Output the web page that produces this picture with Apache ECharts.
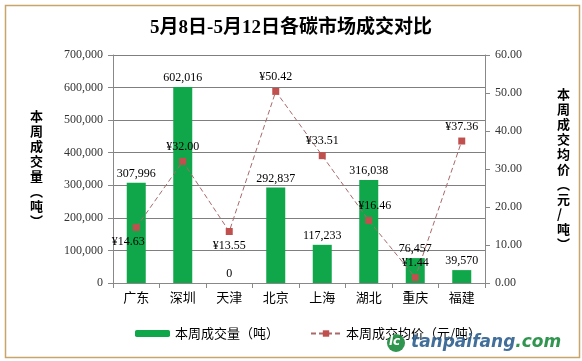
<!DOCTYPE html>
<html><head><meta charset="utf-8">
<script src="https://cdn.jsdelivr.net/npm/echarts@6/dist/echarts.min.js"></script>
<style>html,body{margin:0;padding:0;background:#fff}#c{width:582px;height:361px}</style>
</head><body><div id="c"></div>
<script>
var categories = ['广东','深圳','天津','北京','上海','湖北','重庆','福建'];
var volumes = [307996, 602016, 0, 292837, 117233, 316038, 76457, 39570];
var prices = [14.63, 32.00, 13.55, 50.42, 33.51, 16.46, 1.44, 37.36];
var priceLabelPos = ['bottom','top','bottom','top','top','top','top','top'];

var serif = '"Times New Roman","Liberation Serif","Noto Sans CJK SC",serif';
var chart = echarts.init(document.getElementById('c'));
function fmt(n){return n.toString().replace(/\B(?=(\d{3})+(?!\d))/g, ',');}
chart.setOption({
  backgroundColor: '#fff',
  animation: false,
  title: {text: '5月8日-5月12日各碳市场成交对比', left: 'center', top: 14,
    textStyle: {fontFamily: serif, fontSize: 19, fontWeight: 'bold', color: '#000'}},
  legend: [
    {data: ['本周成交量（吨）'], left: 130, top: 322, itemWidth: 35, itemHeight: 7, itemGap: 5,
      textStyle: {fontFamily: '"Noto Sans CJK SC",sans-serif', fontSize: 13, color: '#000'}},
    {data: ['本周成交均价（元/吨）'], left: 305, top: 322, itemWidth: 30, itemHeight: 8,
      textStyle: {fontFamily: '"Noto Sans CJK SC",sans-serif', fontSize: 13, color: '#000'}}
  ],
  grid: {left: 113, right: 97, top: 55, bottom: 78},
  xAxis: {type: 'category', data: categories,
    axisLine: {lineStyle: {color: '#888'}}, axisTick: {show: true, length: 5, lineStyle: {color: '#888'}},
    axisLabel: {fontFamily: '"Noto Sans CJK SC",sans-serif', fontSize: 13, color: '#000', margin: 8}},
  yAxis: [
    {type: 'value', min: 0, max: 700000, interval: 100000,
      name: '本\n周\n成\n交\n量\n︵\n吨\n︶', nameLocation: 'middle', nameRotate: 0, nameGap: 70,
      nameTextStyle: {fontFamily: '"Noto Sans CJK SC",sans-serif', fontSize: 13, fontWeight: 'bold', lineHeight: 15, color: '#000'},
      axisLine: {show: true, lineStyle: {color: '#888'}}, axisTick: {show: true, length: 5, lineStyle: {color: '#888'}},
      splitLine: {lineStyle: {color: '#7f7f7f'}},
      axisLabel: {fontFamily: serif, fontSize: 12, color: '#333', margin: 10, formatter: function(v){return fmt(v);}}},
    {type: 'value', min: 0, max: 60, interval: 10,
      name: '本\n周\n成\n交\n均\n价\n︵\n元\n/\n吨\n︶', nameLocation: 'middle', nameRotate: 0, nameGap: 72,
      nameTextStyle: {fontFamily: '"Noto Sans CJK SC",sans-serif', fontSize: 13, fontWeight: 'bold', lineHeight: 15, color: '#000'},
      axisLine: {show: true, lineStyle: {color: '#888'}}, axisTick: {show: true, length: 5, lineStyle: {color: '#888'}},
      splitLine: {show: false},
      axisLabel: {fontFamily: serif, fontSize: 12, color: '#333', margin: 10, formatter: function(v){return v.toFixed(2);}}}
  ],
  series: [
    {name: '本周成交量（吨）', type: 'bar', data: volumes, barWidth: 19, yAxisIndex: 0,
      itemStyle: {color: '#10A64A'},
      label: {show: true, position: 'top', distance: 3, fontFamily: serif, fontSize: 12, color: '#000',
        formatter: function(p){return fmt(p.value);}}},
    {name: '本周成交均价（元/吨）', type: 'line', yAxisIndex: 1,
      data: prices.map(function(v, i){
        var o = {value: v, label: {position: priceLabelPos[i]}};
        if (i === 0) o.label = {position: 'bottom', offset: [-8, 0]};
        if (i === 5) o.label = {position: 'top', offset: [6, 0]};
        return o;
      }),
      symbol: 'rect', symbolSize: 7,
      lineStyle: {color: '#A86A6A', width: 1, type: [5, 3]},
      itemStyle: {color: '#C0504D'},
      label: {show: true, fontFamily: serif, fontSize: 12, color: '#000', distance: 5,
        formatter: function(p){return '¥' + p.value.toFixed(2);}}}
  ],
  graphic: [
    {type: 'rect', left: 3, top: 3, shape: {width: 574, height: 352}, style: {fill: 'none', stroke: '#C9A56A', lineWidth: 1.5}, silent: true, z: 100},
    {type: 'circle', shape: {cx: 396, cy: 343, r: 9}, style: {fill: '#1a8a3c', opacity: 0.9}, z: 100},
    {type: 'text', left: 389, top: 336, style: {text: 'lc', font: 'italic bold 12px "DejaVu Sans",sans-serif', fill: '#fff'}, z: 101},
    {type: 'text', left: 411, top: 334, z: 100, style: {rich: {a: {font: 'italic bold 17px "DejaVu Sans",sans-serif', fill: '#2d5f8f'}, b: {font: 'italic bold 17px "DejaVu Sans",sans-serif', fill: '#1a8a3c'}}, text: '{a|tanpaifang}{b|.com}', opacity: 0.9}}
  ]
});
</script></body></html>
